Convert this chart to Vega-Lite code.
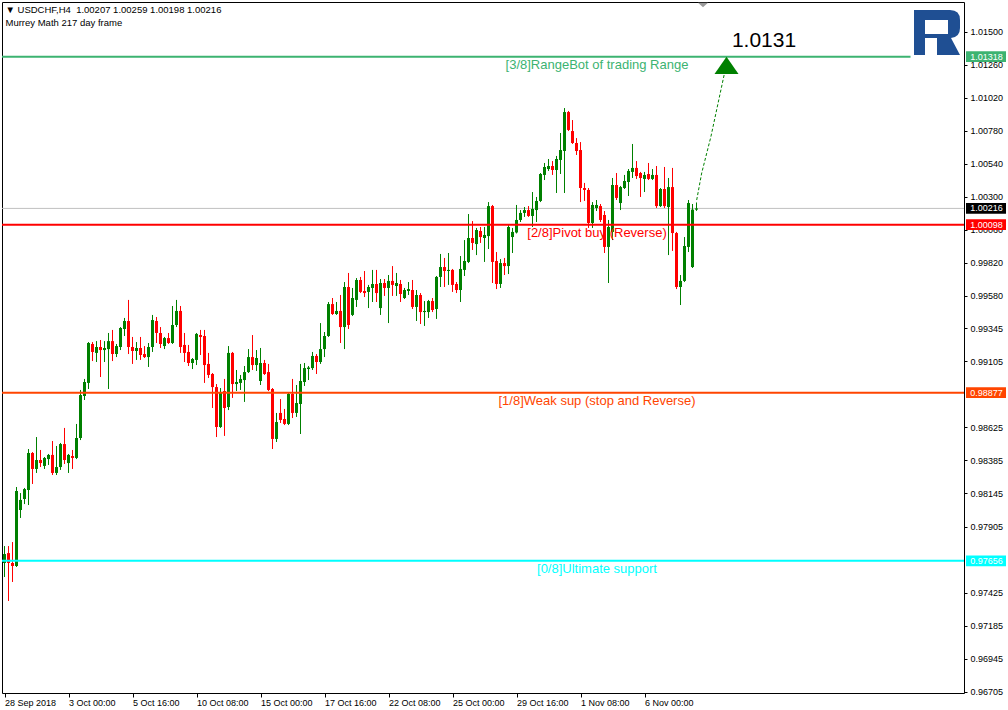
{
"$schema": "https://vega.github.io/schema/vega-lite/v6.json",
"width": 962, "height": 691,
"autosize": {"type": "none"},
"padding": {"left": 2, "top": 2, "right": 44, "bottom": 17},
"background": "#ffffff",
"config": {
"view": {"stroke": "#000000", "strokeWidth": 1},
"axis": {"domain": false, "grid": false, "labelFont": "Liberation Sans", "labelFontSize": 9, "labelColor": "#000000", "tickColor": "#000000", "labelOverlap": false, "labelFlush": false, "labelBound": false},
"axisX": {"tickSize": 4, "labelAlign": "left", "labelDx": 1, "labelPadding": 1, "labelBaseline": "top"},
"axisY": {"tickSize": 3, "labelPadding": 3, "labelBaseline": "middle", "labelAlign": "left"}
},
"datasets": {
"candles": [
{"k":0,"o":0.9764,"h":0.97763,"l":0.97538,"c":0.97705},
{"k":1,"o":0.97712,"h":0.97763,"l":0.97364,"c":0.9764},
{"k":2,"o":0.9764,"h":0.97792,"l":0.97502,"c":0.97618},
{"k":3,"o":0.97618,"h":0.98192,"l":0.97611,"c":0.98163},
{"k":4,"o":0.98025,"h":0.98148,"l":0.97967,"c":0.98098},
{"k":5,"o":0.98105,"h":0.98185,"l":0.98068,"c":0.98177},
{"k":6,"o":0.9817,"h":0.98468,"l":0.98061,"c":0.98439},
{"k":7,"o":0.98439,"h":0.98446,"l":0.98214,"c":0.98323},
{"k":8,"o":0.98323,"h":0.98555,"l":0.98294,"c":0.98388},
{"k":9,"o":0.98388,"h":0.98461,"l":0.98337,"c":0.98366},
{"k":10,"o":0.98345,"h":0.9841,"l":0.98323,"c":0.98403},
{"k":11,"o":0.98395,"h":0.98432,"l":0.98352,"c":0.98425},
{"k":12,"o":0.98425,"h":0.98526,"l":0.98279,"c":0.98294},
{"k":13,"o":0.98294,"h":0.9849,"l":0.98279,"c":0.98337},
{"k":14,"o":0.98337,"h":0.98512,"l":0.98316,"c":0.98504},
{"k":15,"o":0.98504,"h":0.98621,"l":0.98359,"c":0.98388},
{"k":16,"o":0.98366,"h":0.98432,"l":0.98294,"c":0.98425},
{"k":17,"o":0.98417,"h":0.98461,"l":0.98323,"c":0.98403},
{"k":18,"o":0.98403,"h":0.9865,"l":0.98395,"c":0.98548},
{"k":19,"o":0.98548,"h":0.98897,"l":0.98533,"c":0.9886},
{"k":20,"o":0.98853,"h":0.98977,"l":0.98824,"c":0.98955},
{"k":21,"o":0.98948,"h":0.99245,"l":0.98904,"c":0.99238},
{"k":22,"o":0.99231,"h":0.99245,"l":0.99107,"c":0.99173},
{"k":23,"o":0.99166,"h":0.99252,"l":0.991,"c":0.99209},
{"k":24,"o":0.99209,"h":0.9926,"l":0.98991,"c":0.99187},
{"k":25,"o":0.99187,"h":0.99252,"l":0.991,"c":0.99202},
{"k":26,"o":0.99194,"h":0.99311,"l":0.98904,"c":0.99252},
{"k":27,"o":0.99252,"h":0.99333,"l":0.99107,"c":0.99158},
{"k":28,"o":0.99158,"h":0.99231,"l":0.99136,"c":0.99216},
{"k":29,"o":0.99209,"h":0.99354,"l":0.99187,"c":0.99347},
{"k":30,"o":0.9934,"h":0.9942,"l":0.99289,"c":0.99398},
{"k":31,"o":0.99398,"h":0.99551,"l":0.99158,"c":0.99209},
{"k":32,"o":0.99209,"h":0.99282,"l":0.99086,"c":0.9918},
{"k":33,"o":0.9918,"h":0.99245,"l":0.99115,"c":0.99202},
{"k":34,"o":0.99202,"h":0.99282,"l":0.99115,"c":0.99151},
{"k":35,"o":0.99158,"h":0.99216,"l":0.99129,"c":0.99136},
{"k":36,"o":0.99136,"h":0.99238,"l":0.99064,"c":0.99209},
{"k":37,"o":0.99209,"h":0.99442,"l":0.99173,"c":0.99405},
{"k":38,"o":0.99398,"h":0.99427,"l":0.99238,"c":0.99311},
{"k":39,"o":0.99311,"h":0.99354,"l":0.99202,"c":0.99231},
{"k":40,"o":0.99216,"h":0.99282,"l":0.99194,"c":0.99274},
{"k":41,"o":0.99274,"h":0.99311,"l":0.99231,"c":0.99238},
{"k":42,"o":0.99238,"h":0.99507,"l":0.99231,"c":0.99369},
{"k":43,"o":0.99369,"h":0.99551,"l":0.99354,"c":0.99471},
{"k":44,"o":0.99471,"h":0.99507,"l":0.99166,"c":0.99209},
{"k":45,"o":0.99224,"h":0.99311,"l":0.991,"c":0.99166},
{"k":46,"o":0.99173,"h":0.99224,"l":0.99071,"c":0.99093},
{"k":47,"o":0.99093,"h":0.99129,"l":0.99049,"c":0.99122},
{"k":48,"o":0.99115,"h":0.99311,"l":0.99078,"c":0.99304},
{"k":49,"o":0.99296,"h":0.99333,"l":0.99151,"c":0.99282},
{"k":50,"o":0.99289,"h":0.99333,"l":0.98948,"c":0.99078},
{"k":51,"o":0.99086,"h":0.99166,"l":0.98984,"c":0.99006},
{"k":52,"o":0.99013,"h":0.9902,"l":0.98766,"c":0.98918},
{"k":53,"o":0.98918,"h":0.9894,"l":0.98555,"c":0.98628},
{"k":54,"o":0.98628,"h":0.98911,"l":0.98621,"c":0.98882},
{"k":55,"o":0.98889,"h":0.98977,"l":0.98563,"c":0.98766},
{"k":56,"o":0.98773,"h":0.99216,"l":0.98751,"c":0.99166},
{"k":57,"o":0.99166,"h":0.99173,"l":0.98839,"c":0.9894},
{"k":58,"o":0.9894,"h":0.99042,"l":0.98889,"c":0.98955},
{"k":59,"o":0.98948,"h":0.99006,"l":0.98897,"c":0.98977},
{"k":60,"o":0.98969,"h":0.99071,"l":0.9881,"c":0.99027},
{"k":61,"o":0.99027,"h":0.99194,"l":0.9902,"c":0.99136},
{"k":62,"o":0.99136,"h":0.99296,"l":0.99042,"c":0.99078},
{"k":63,"o":0.99078,"h":0.99187,"l":0.99035,"c":0.99129},
{"k":64,"o":0.98962,"h":0.99202,"l":0.98933,"c":0.99093},
{"k":65,"o":0.99093,"h":0.99115,"l":0.99006,"c":0.99013},
{"k":66,"o":0.99027,"h":0.99086,"l":0.98889,"c":0.98897},
{"k":67,"o":0.98904,"h":0.98911,"l":0.98468,"c":0.98541},
{"k":68,"o":0.98541,"h":0.9873,"l":0.98519,"c":0.98664},
{"k":69,"o":0.9873,"h":0.98831,"l":0.98657,"c":0.98679},
{"k":70,"o":0.98686,"h":0.98759,"l":0.98642,"c":0.9865},
{"k":71,"o":0.9865,"h":0.98875,"l":0.98642,"c":0.98868},
{"k":72,"o":0.98868,"h":0.98977,"l":0.98693,"c":0.9873},
{"k":73,"o":0.9873,"h":0.98933,"l":0.98701,"c":0.98802},
{"k":74,"o":0.98795,"h":0.99086,"l":0.98577,"c":0.98962},
{"k":75,"o":0.98955,"h":0.99093,"l":0.98926,"c":0.99056},
{"k":76,"o":0.99049,"h":0.99071,"l":0.98969,"c":0.9906},
{"k":77,"o":0.99056,"h":0.99173,"l":0.99042,"c":0.99144},
{"k":78,"o":0.99144,"h":0.99158,"l":0.99013,"c":0.991},
{"k":79,"o":0.991,"h":0.99383,"l":0.99086,"c":0.99194},
{"k":80,"o":0.99194,"h":0.99318,"l":0.99136,"c":0.99289},
{"k":81,"o":0.99289,"h":0.99536,"l":0.99282,"c":0.99521},
{"k":82,"o":0.99521,"h":0.99565,"l":0.99442,"c":0.99449},
{"k":83,"o":0.99449,"h":0.99536,"l":0.99442,"c":0.99471},
{"k":84,"o":0.99471,"h":0.99587,"l":0.99238,"c":0.99354},
{"k":85,"o":0.99354,"h":0.99681,"l":0.99194,"c":0.99645},
{"k":86,"o":0.99645,"h":0.99747,"l":0.9934,"c":0.99369},
{"k":87,"o":0.99442,"h":0.99638,"l":0.99434,"c":0.99565},
{"k":88,"o":0.99551,"h":0.9971,"l":0.995,"c":0.99696},
{"k":89,"o":0.99696,"h":0.99718,"l":0.99601,"c":0.99609},
{"k":90,"o":0.99616,"h":0.99761,"l":0.99572,"c":0.99601},
{"k":91,"o":0.99609,"h":0.9966,"l":0.99492,"c":0.99645},
{"k":92,"o":0.99638,"h":0.99769,"l":0.99536,"c":0.99667},
{"k":93,"o":0.99667,"h":0.99769,"l":0.99536,"c":0.99601},
{"k":94,"o":0.99492,"h":0.99703,"l":0.99442,"c":0.99674},
{"k":95,"o":0.99674,"h":0.99703,"l":0.9958,"c":0.99638},
{"k":96,"o":0.99638,"h":0.99732,"l":0.99383,"c":0.99689},
{"k":97,"o":0.99689,"h":0.99797,"l":0.9958,"c":0.9966},
{"k":98,"o":0.99652,"h":0.99747,"l":0.9958,"c":0.99674},
{"k":99,"o":0.99667,"h":0.99696,"l":0.99536,"c":0.99594},
{"k":100,"o":0.99565,"h":0.99638,"l":0.99558,"c":0.99623},
{"k":101,"o":0.99616,"h":0.99681,"l":0.99587,"c":0.9963},
{"k":102,"o":0.99623,"h":0.99696,"l":0.99485,"c":0.995},
{"k":103,"o":0.995,"h":0.99623,"l":0.99398,"c":0.99587},
{"k":104,"o":0.99587,"h":0.99601,"l":0.99376,"c":0.99463},
{"k":105,"o":0.99463,"h":0.99543,"l":0.99362,"c":0.99471},
{"k":106,"o":0.99463,"h":0.99551,"l":0.9942,"c":0.99543},
{"k":107,"o":0.99543,"h":0.99565,"l":0.99463,"c":0.99478},
{"k":108,"o":0.99485,"h":0.99725,"l":0.99413,"c":0.99718},
{"k":109,"o":0.99718,"h":0.99885,"l":0.99645,"c":0.9979},
{"k":110,"o":0.9979,"h":0.99856,"l":0.99645,"c":0.99761},
{"k":111,"o":0.99761,"h":0.99892,"l":0.9966,"c":0.99769},
{"k":112,"o":0.99769,"h":0.99776,"l":0.99609,"c":0.9966},
{"k":113,"o":0.99667,"h":0.99681,"l":0.99601,"c":0.99623},
{"k":114,"o":0.99623,"h":0.9987,"l":0.99536,"c":0.99776},
{"k":115,"o":0.99769,"h":0.99986,"l":0.99725,"c":0.99834},
{"k":116,"o":0.99827,"h":1.00175,"l":0.99819,"c":1.00001},
{"k":117,"o":1.00001,"h":1.00124,"l":0.99914,"c":0.99965},
{"k":118,"o":0.99957,"h":1.00074,"l":0.99877,"c":1.00059},
{"k":119,"o":1.00052,"h":1.00081,"l":0.99965,"c":1.00008},
{"k":120,"o":1.00001,"h":1.00081,"l":0.99827,"c":1.00023},
{"k":121,"o":1.00015,"h":1.00262,"l":0.99921,"c":1.00233},
{"k":122,"o":1.00233,"h":1.00241,"l":0.99674,"c":0.99827},
{"k":123,"o":0.99834,"h":0.99899,"l":0.9963,"c":0.99667},
{"k":124,"o":0.99667,"h":0.99848,"l":0.99638,"c":0.99819},
{"k":125,"o":0.99819,"h":0.99856,"l":0.99732,"c":0.99797},
{"k":126,"o":0.99797,"h":1.00095,"l":0.99739,"c":1.00081},
{"k":127,"o":1.00008,"h":1.00074,"l":0.99892,"c":1.00045},
{"k":128,"o":1.00041,"h":1.00241,"l":1.00034,"c":1.00132},
{"k":129,"o":1.00132,"h":1.00204,"l":1.00117,"c":1.00183},
{"k":130,"o":1.00183,"h":1.00226,"l":1.00154,"c":1.00204},
{"k":131,"o":1.00204,"h":1.00233,"l":1.00154,"c":1.00161},
{"k":132,"o":1.00161,"h":1.00335,"l":1.00081,"c":1.00212},
{"k":133,"o":1.00204,"h":1.00299,"l":1.00117,"c":1.0027},
{"k":134,"o":1.0027,"h":1.00473,"l":1.00262,"c":1.00466},
{"k":135,"o":1.00459,"h":1.00546,"l":1.00422,"c":1.00517},
{"k":136,"o":1.00502,"h":1.00575,"l":1.00488,"c":1.00524},
{"k":137,"o":1.00524,"h":1.0056,"l":1.00459,"c":1.00495},
{"k":138,"o":1.00495,"h":1.00597,"l":1.00328,"c":1.00575},
{"k":139,"o":1.00568,"h":1.00764,"l":1.00466,"c":1.0064},
{"k":140,"o":1.00633,"h":1.00945,"l":1.00328,"c":1.00916},
{"k":141,"o":1.00916,"h":1.00924,"l":1.00778,"c":1.00786},
{"k":142,"o":1.00778,"h":1.00858,"l":1.00684,"c":1.00691},
{"k":143,"o":1.00691,"h":1.00727,"l":1.00604,"c":1.00633},
{"k":144,"o":1.0064,"h":1.00698,"l":1.00262,"c":1.00364},
{"k":145,"o":1.00364,"h":1.00401,"l":1.0027,"c":1.0035},
{"k":146,"o":1.0035,"h":1.00364,"l":1.00074,"c":1.0011},
{"k":147,"o":1.0011,"h":1.00262,"l":1.00074,"c":1.00241},
{"k":148,"o":1.00219,"h":1.00277,"l":1.00197,"c":1.00241},
{"k":149,"o":1.00233,"h":1.00248,"l":1.00117,"c":1.00132},
{"k":150,"o":1.00168,"h":1.00197,"l":0.99892,"c":0.99936},
{"k":151,"o":0.99936,"h":1.00132,"l":0.99674,"c":1.00081},
{"k":152,"o":1.00045,"h":1.00437,"l":0.99986,"c":1.00386},
{"k":153,"o":1.00386,"h":1.00473,"l":1.00277,"c":1.00292},
{"k":154,"o":1.00255,"h":1.00379,"l":1.00204,"c":1.00371},
{"k":155,"o":1.00364,"h":1.00459,"l":1.00357,"c":1.00415},
{"k":156,"o":1.00408,"h":1.00502,"l":1.00306,"c":1.00488},
{"k":157,"o":1.00481,"h":1.00684,"l":1.00437,"c":1.0051},
{"k":158,"o":1.0051,"h":1.0056,"l":1.0043,"c":1.00451},
{"k":159,"o":1.00473,"h":1.00481,"l":1.00299,"c":1.00437},
{"k":160,"o":1.0043,"h":1.00481,"l":1.00335,"c":1.00459},
{"k":161,"o":1.00466,"h":1.00546,"l":1.00422,"c":1.0043},
{"k":162,"o":1.0043,"h":1.00502,"l":1.00422,"c":1.00459},
{"k":163,"o":1.00459,"h":1.00524,"l":1.00219,"c":1.00233},
{"k":164,"o":1.00233,"h":1.00364,"l":1.00226,"c":1.00357},
{"k":165,"o":1.00357,"h":1.00517,"l":1.00219,"c":1.00233},
{"k":166,"o":1.00226,"h":1.00437,"l":0.99877,"c":1.00371},
{"k":167,"o":1.00371,"h":1.0051,"l":0.99907,"c":1.00037},
{"k":168,"o":1.00037,"h":1.00045,"l":0.9963,"c":0.99645},
{"k":169,"o":0.99645,"h":0.99732,"l":0.99514,"c":0.99689},
{"k":170,"o":0.99689,"h":1.00008,"l":0.99681,"c":0.99943},
{"k":171,"o":0.99936,"h":1.00277,"l":0.99899,"c":1.00255},
{"k":172,"o":0.9979,"h":1.00248,"l":0.99783,"c":1.00207},
{"k":173,"o":1.00207,"h":1.00259,"l":1.00198,"c":1.00216}
],
"levels": [
{"name":"3/8","p":1.01318,"label":"[3/8]RangeBot of trading Range"},
{"name":"2/8","p":1.00098,"label":"[2/8]Pivot buy (Reverse)"},
{"name":"1/8","p":0.98877,"label":"[1/8]Weak sup (stop and Reverse)"},
{"name":"0/8","p":0.97656,"label":"[0/8]Ultimate support"}
],
"tags": [
{"name":"3/8","p":1.01318,"tag":"1.01318"},
{"name":"cur","p":1.00216,"tag":"1.00216"},
{"name":"2/8","p":1.00098,"tag":"1.00098"},
{"name":"1/8","p":0.98877,"tag":"0.98877"},
{"name":"0/8","p":0.97656,"tag":"0.97656"}
],
"arrow": [
{"i":0,"k":173.05,"p":1.00277},
{"i":1,"k":174.3,"p":1.00473},
{"i":2,"k":176.6,"p":1.00737},
{"i":3,"k":179.9,"p":1.01185}
]
},
"layer": [
{
"data": {"values": [{"p": 1.00216}]},
"mark": {"type": "rule", "color": "#C0C0C0", "strokeWidth": 1},
"encoding": {
"y": {"field": "p", "type": "quantitative", "scale": {"domain": [0.966954, 1.017155], "nice": false, "zero": false},
"axis": {"orient": "right", "values": [1.015,1.0126,1.0102,1.0078,1.0054,1.003,1.0006,0.9982,0.9958,0.99345,0.99105,0.98625,0.98385,0.98145,0.97905,0.97425,0.97185,0.96945,0.96705], "format": ".5f", "title": null}}
}
},
{
"data": {"name": "candles"},
"mark": {"type": "rule", "strokeWidth": 1},
"encoding": {
"x": {"field": "k", "type": "quantitative", "scale": {"domain": [-0.625, 239.875], "nice": false, "zero": false, "padding": 0},
"axis": {"values": [0,16,32,48,64,80,96,112,128,144,160], "title": null, "labelExpr": "['28 Sep 2018','3 Oct 00:00','5 Oct 16:00','10 Oct 08:00','15 Oct 00:00','17 Oct 16:00','22 Oct 08:00','25 Oct 00:00','29 Oct 16:00','1 Nov 08:00','6 Nov 00:00'][round(datum.value/16)]"}},
"y": {"field": "l", "type": "quantitative", "scale": {"domain": [0.966954, 1.017155], "nice": false, "zero": false},
"axis": {"orient": "right", "values": [1.015,1.0126,1.0102,1.0078,1.0054,1.003,1.0006,0.9982,0.9958,0.99345,0.99105,0.98625,0.98385,0.98145,0.97905,0.97425,0.97185,0.96945,0.96705], "format": ".5f", "title": null}},
"y2": {"field": "h"},
"color": {"condition": {"test": "datum.c >= datum.o", "value": "#008000"}, "value": "#FF0000"}
}
},
{
"data": {"name": "candles"},
"mark": {"type": "bar", "size": 3, "orient": "vertical"},
"encoding": {
"x": {"field": "k", "type": "quantitative", "scale": {"domain": [-0.625, 239.875], "nice": false, "zero": false, "padding": 0},
"axis": {"values": [0,16,32,48,64,80,96,112,128,144,160], "title": null, "labelExpr": "['28 Sep 2018','3 Oct 00:00','5 Oct 16:00','10 Oct 08:00','15 Oct 00:00','17 Oct 16:00','22 Oct 08:00','25 Oct 00:00','29 Oct 16:00','1 Nov 08:00','6 Nov 00:00'][round(datum.value/16)]"}},
"y": {"field": "o", "type": "quantitative", "scale": {"domain": [0.966954, 1.017155], "nice": false, "zero": false},
"axis": {"orient": "right", "values": [1.015,1.0126,1.0102,1.0078,1.0054,1.003,1.0006,0.9982,0.9958,0.99345,0.99105,0.98625,0.98385,0.98145,0.97905,0.97425,0.97185,0.96945,0.96705], "format": ".5f", "title": null}},
"y2": {"field": "c"},
"color": {"condition": {"test": "datum.c >= datum.o", "value": "#008000"}, "value": "#FF0000"}
}
},
{
"data": {"name": "levels"},
"transform": [{"filter": "datum.name != '3/8'"}],
"mark": {"type": "rule", "strokeWidth": 2},
"encoding": {
"y": {"field": "p", "type": "quantitative", "scale": {"domain": [0.966954, 1.017155], "nice": false, "zero": false},
"axis": {"orient": "right", "values": [1.015,1.0126,1.0102,1.0078,1.0054,1.003,1.0006,0.9982,0.9958,0.99345,0.99105,0.98625,0.98385,0.98145,0.97905,0.97425,0.97185,0.96945,0.96705], "format": ".5f", "title": null}},
"color": {"field": "name", "type": "nominal", "scale": {"domain": ["3/8","2/8","1/8","0/8","cur"], "range": ["#3CB371","#FF0000","#FF4500","#00FFFF","#000000"]}, "legend": null}
}
},
{
"data": {"values": [{"p": 1.01318}]},
"mark": {"type": "rule", "strokeWidth": 2, "color": "#3CB371"},
"encoding": {
"x": {"datum": -0.625, "type": "quantitative", "scale": {"domain": [-0.625, 239.875], "nice": false, "zero": false, "padding": 0},
"axis": {"values": [0,16,32,48,64,80,96,112,128,144,160], "title": null, "labelExpr": "['28 Sep 2018','3 Oct 00:00','5 Oct 16:00','10 Oct 08:00','15 Oct 00:00','17 Oct 16:00','22 Oct 08:00','25 Oct 00:00','29 Oct 16:00','1 Nov 08:00','6 Nov 00:00'][round(datum.value/16)]"}},
"x2": {"datum": 226.5},
"y": {"field": "p", "type": "quantitative", "scale": {"domain": [0.966954, 1.017155], "nice": false, "zero": false},
"axis": {"orient": "right", "values": [1.015,1.0126,1.0102,1.0078,1.0054,1.003,1.0006,0.9982,0.9958,0.99345,0.99105,0.98625,0.98385,0.98145,0.97905,0.97425,0.97185,0.96945,0.96705], "format": ".5f", "title": null}}
}
},
{
"data": {"name": "levels"},
"mark": {"type": "text", "align": "center", "baseline": "top", "dy": 2, "font": "Liberation Sans", "fontSize": 13},
"encoding": {
"x": {"datum": 148.125, "type": "quantitative", "scale": {"domain": [-0.625, 239.875], "nice": false, "zero": false, "padding": 0},
"axis": {"values": [0,16,32,48,64,80,96,112,128,144,160], "title": null, "labelExpr": "['28 Sep 2018','3 Oct 00:00','5 Oct 16:00','10 Oct 08:00','15 Oct 00:00','17 Oct 16:00','22 Oct 08:00','25 Oct 00:00','29 Oct 16:00','1 Nov 08:00','6 Nov 00:00'][round(datum.value/16)]"}},
"y": {"field": "p", "type": "quantitative", "scale": {"domain": [0.966954, 1.017155], "nice": false, "zero": false},
"axis": {"orient": "right", "values": [1.015,1.0126,1.0102,1.0078,1.0054,1.003,1.0006,0.9982,0.9958,0.99345,0.99105,0.98625,0.98385,0.98145,0.97905,0.97425,0.97185,0.96945,0.96705], "format": ".5f", "title": null}},
"text": {"field": "label"},
"color": {"field": "name", "type": "nominal", "scale": {"domain": ["3/8","2/8","1/8","0/8","cur"], "range": ["#3CB371","#FF0000","#FF4500","#00FFFF","#000000"]}, "legend": null}
}
},
{
"data": {"name": "tags"},
"mark": {"type": "point", "shape": "M-1,-0.27L1,-0.27L1,0.27L-1,0.27Z", "size": 1600, "filled": true, "opacity": 1, "strokeWidth": 0},
"encoding": {
"x": {"datum": 245.375, "type": "quantitative", "scale": {"domain": [-0.625, 239.875], "nice": false, "zero": false, "padding": 0},
"axis": {"values": [0,16,32,48,64,80,96,112,128,144,160], "title": null, "labelExpr": "['28 Sep 2018','3 Oct 00:00','5 Oct 16:00','10 Oct 08:00','15 Oct 00:00','17 Oct 16:00','22 Oct 08:00','25 Oct 00:00','29 Oct 16:00','1 Nov 08:00','6 Nov 00:00'][round(datum.value/16)]"}},
"y": {"field": "p", "type": "quantitative", "scale": {"domain": [0.966954, 1.017155], "nice": false, "zero": false},
"axis": {"orient": "right", "values": [1.015,1.0126,1.0102,1.0078,1.0054,1.003,1.0006,0.9982,0.9958,0.99345,0.99105,0.98625,0.98385,0.98145,0.97905,0.97425,0.97185,0.96945,0.96705], "format": ".5f", "title": null}},
"color": {"field": "name", "type": "nominal", "scale": {"domain": ["3/8","2/8","1/8","0/8","cur"], "range": ["#3CB371","#FF0000","#FF4500","#00FFFF","#000000"]}, "legend": null}
}
},
{
"data": {"name": "tags"},
"mark": {"type": "text", "align": "center", "baseline": "middle", "font": "Liberation Sans", "fontSize": 9, "color": "#FFFFFF"},
"encoding": {
"x": {"datum": 245.5, "type": "quantitative", "scale": {"domain": [-0.625, 239.875], "nice": false, "zero": false, "padding": 0},
"axis": {"values": [0,16,32,48,64,80,96,112,128,144,160], "title": null, "labelExpr": "['28 Sep 2018','3 Oct 00:00','5 Oct 16:00','10 Oct 08:00','15 Oct 00:00','17 Oct 16:00','22 Oct 08:00','25 Oct 00:00','29 Oct 16:00','1 Nov 08:00','6 Nov 00:00'][round(datum.value/16)]"}},
"y": {"field": "p", "type": "quantitative", "scale": {"domain": [0.966954, 1.017155], "nice": false, "zero": false},
"axis": {"orient": "right", "values": [1.015,1.0126,1.0102,1.0078,1.0054,1.003,1.0006,0.9982,0.9958,0.99345,0.99105,0.98625,0.98385,0.98145,0.97905,0.97425,0.97185,0.96945,0.96705], "format": ".5f", "title": null}},
"text": {"field": "tag"}
}
},
{
"data": {"name": "arrow"},
"mark": {"type": "line", "color": "#008000", "strokeWidth": 1, "strokeDash": [3, 2]},
"encoding": {
"x": {"field": "k", "type": "quantitative", "scale": {"domain": [-0.625, 239.875], "nice": false, "zero": false, "padding": 0},
"axis": {"values": [0,16,32,48,64,80,96,112,128,144,160], "title": null, "labelExpr": "['28 Sep 2018','3 Oct 00:00','5 Oct 16:00','10 Oct 08:00','15 Oct 00:00','17 Oct 16:00','22 Oct 08:00','25 Oct 00:00','29 Oct 16:00','1 Nov 08:00','6 Nov 00:00'][round(datum.value/16)]"}},
"y": {"field": "p", "type": "quantitative", "scale": {"domain": [0.966954, 1.017155], "nice": false, "zero": false},
"axis": {"orient": "right", "values": [1.015,1.0126,1.0102,1.0078,1.0054,1.003,1.0006,0.9982,0.9958,0.99345,0.99105,0.98625,0.98385,0.98145,0.97905,0.97425,0.97185,0.96945,0.96705], "format": ".5f", "title": null}},
"order": {"field": "i"}
}
},
{
"data": {"values": [{}]},
"mark": {"type": "point", "shape": "M0,0L1,1.45L-1,1.45Z", "size": 576, "filled": true, "opacity": 1, "color": "#008000", "strokeWidth": 0},
"encoding": {
"x": {"datum": 180.5, "type": "quantitative", "scale": {"domain": [-0.625, 239.875], "nice": false, "zero": false, "padding": 0},
"axis": {"values": [0,16,32,48,64,80,96,112,128,144,160], "title": null, "labelExpr": "['28 Sep 2018','3 Oct 00:00','5 Oct 16:00','10 Oct 08:00','15 Oct 00:00','17 Oct 16:00','22 Oct 08:00','25 Oct 00:00','29 Oct 16:00','1 Nov 08:00','6 Nov 00:00'][round(datum.value/16)]"}},
"y": {"datum": 1.01318, "type": "quantitative", "scale": {"domain": [0.966954, 1.017155], "nice": false, "zero": false},
"axis": {"orient": "right", "values": [1.015,1.0126,1.0102,1.0078,1.0054,1.003,1.0006,0.9982,0.9958,0.99345,0.99105,0.98625,0.98385,0.98145,0.97905,0.97425,0.97185,0.96945,0.96705], "format": ".5f", "title": null}}
}
},
{
"data": {"values": [{}]},
"mark": {"type": "text", "text": "1.0131", "align": "center", "baseline": "middle", "font": "Liberation Sans", "fontSize": 21, "color": "#000000"},
"encoding": {
"x": {"datum": 189.875, "type": "quantitative", "scale": {"domain": [-0.625, 239.875], "nice": false, "zero": false, "padding": 0},
"axis": {"values": [0,16,32,48,64,80,96,112,128,144,160], "title": null, "labelExpr": "['28 Sep 2018','3 Oct 00:00','5 Oct 16:00','10 Oct 08:00','15 Oct 00:00','17 Oct 16:00','22 Oct 08:00','25 Oct 00:00','29 Oct 16:00','1 Nov 08:00','6 Nov 00:00'][round(datum.value/16)]"}},
"y": {"datum": 1.0143, "type": "quantitative", "scale": {"domain": [0.966954, 1.017155], "nice": false, "zero": false},
"axis": {"orient": "right", "values": [1.015,1.0126,1.0102,1.0078,1.0054,1.003,1.0006,0.9982,0.9958,0.99345,0.99105,0.98625,0.98385,0.98145,0.97905,0.97425,0.97185,0.96945,0.96705], "format": ".5f", "title": null}}
}
},
{
"data": {"values": [{}]},
"mark": {"type": "text", "text": "▼ USDCHF,H4\u00a0 1.00207 1.00259 1.00198 1.00216", "align": "left", "baseline": "middle", "font": "Liberation Sans", "fontSize": 9.5, "color": "#000000"},
"encoding": {
"x": {"datum": 0.25, "type": "quantitative", "scale": {"domain": [-0.625, 239.875], "nice": false, "zero": false, "padding": 0},
"axis": {"values": [0,16,32,48,64,80,96,112,128,144,160], "title": null, "labelExpr": "['28 Sep 2018','3 Oct 00:00','5 Oct 16:00','10 Oct 08:00','15 Oct 00:00','17 Oct 16:00','22 Oct 08:00','25 Oct 00:00','29 Oct 16:00','1 Nov 08:00','6 Nov 00:00'][round(datum.value/16)]"}},
"y": {"datum": 1.016574, "type": "quantitative", "scale": {"domain": [0.966954, 1.017155], "nice": false, "zero": false},
"axis": {"orient": "right", "values": [1.015,1.0126,1.0102,1.0078,1.0054,1.003,1.0006,0.9982,0.9958,0.99345,0.99105,0.98625,0.98385,0.98145,0.97905,0.97425,0.97185,0.96945,0.96705], "format": ".5f", "title": null}}
}
},
{
"data": {"values": [{}]},
"mark": {"type": "text", "text": "Murrey Math 217 day frame", "align": "left", "baseline": "middle", "font": "Liberation Sans", "fontSize": 9.5, "color": "#000000"},
"encoding": {
"x": {"datum": 0.25, "type": "quantitative", "scale": {"domain": [-0.625, 239.875], "nice": false, "zero": false, "padding": 0},
"axis": {"values": [0,16,32,48,64,80,96,112,128,144,160], "title": null, "labelExpr": "['28 Sep 2018','3 Oct 00:00','5 Oct 16:00','10 Oct 08:00','15 Oct 00:00','17 Oct 16:00','22 Oct 08:00','25 Oct 00:00','29 Oct 16:00','1 Nov 08:00','6 Nov 00:00'][round(datum.value/16)]"}},
"y": {"datum": 1.015629, "type": "quantitative", "scale": {"domain": [0.966954, 1.017155], "nice": false, "zero": false},
"axis": {"orient": "right", "values": [1.015,1.0126,1.0102,1.0078,1.0054,1.003,1.0006,0.9982,0.9958,0.99345,0.99105,0.98625,0.98385,0.98145,0.97905,0.97425,0.97185,0.96945,0.96705], "format": ".5f", "title": null}}
}
},
{
"data": {"values": [{}]},
"mark": {"type": "point", "shape": "M-23,-22.5L13,-22.5Q23,-22.5 23,-12.5L23,-4.5Q23,4.5 14,5.5L23,22.5L0,22.5L0,5.5L-12,5.5L-12,22.5L-23,22.5ZM-12,-12.5L-12,1.5L11,1.5L11,-12.5Z", "size": 4, "filled": true, "opacity": 1, "color": "#1F4F93", "strokeWidth": 0},
"encoding": {
"x": {"datum": 233.125, "type": "quantitative", "scale": {"domain": [-0.625, 239.875], "nice": false, "zero": false, "padding": 0},
"axis": {"values": [0,16,32,48,64,80,96,112,128,144,160], "title": null, "labelExpr": "['28 Sep 2018','3 Oct 00:00','5 Oct 16:00','10 Oct 08:00','15 Oct 00:00','17 Oct 16:00','22 Oct 08:00','25 Oct 00:00','29 Oct 16:00','1 Nov 08:00','6 Nov 00:00'][round(datum.value/16)]"}},
"y": {"datum": 1.01494, "type": "quantitative", "scale": {"domain": [0.966954, 1.017155], "nice": false, "zero": false},
"axis": {"orient": "right", "values": [1.015,1.0126,1.0102,1.0078,1.0054,1.003,1.0006,0.9982,0.9958,0.99345,0.99105,0.98625,0.98385,0.98145,0.97905,0.97425,0.97185,0.96945,0.96705], "format": ".5f", "title": null}}
}
},
{
"data": {"values": [{}]},
"mark": {"type": "point", "shape": "M-1,0L1,0L0,0.9Z", "size": 100, "filled": true, "opacity": 1, "color": "#9A9A9A", "strokeWidth": 0},
"encoding": {
"x": {"datum": 174.625, "type": "quantitative", "scale": {"domain": [-0.625, 239.875], "nice": false, "zero": false, "padding": 0},
"axis": {"values": [0,16,32,48,64,80,96,112,128,144,160], "title": null, "labelExpr": "['28 Sep 2018','3 Oct 00:00','5 Oct 16:00','10 Oct 08:00','15 Oct 00:00','17 Oct 16:00','22 Oct 08:00','25 Oct 00:00','29 Oct 16:00','1 Nov 08:00','6 Nov 00:00'][round(datum.value/16)]"}},
"y": {"datum": 1.0171, "type": "quantitative", "scale": {"domain": [0.966954, 1.017155], "nice": false, "zero": false},
"axis": {"orient": "right", "values": [1.015,1.0126,1.0102,1.0078,1.0054,1.003,1.0006,0.9982,0.9958,0.99345,0.99105,0.98625,0.98385,0.98145,0.97905,0.97425,0.97185,0.96945,0.96705], "format": ".5f", "title": null}}
}
}
]
}
